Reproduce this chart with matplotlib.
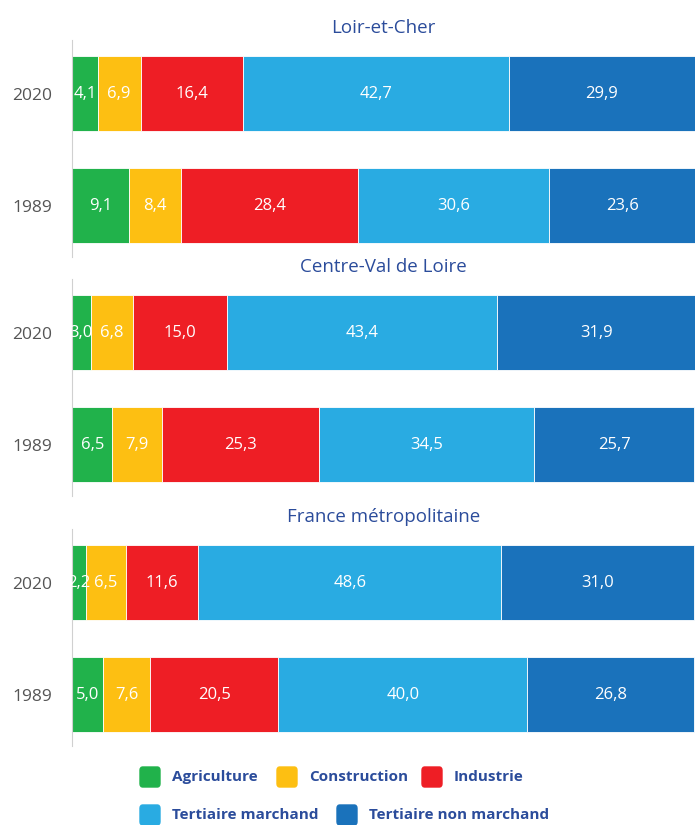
import matplotlib.pyplot as plt
from matplotlib.patches import FancyBboxPatch

plt.rcParams['font.family'] = ['Open Sans', 'DejaVu Sans']

regions = ["Loir-et-Cher", "Centre-Val de Loire", "France métropolitaine"]
years = ["2020", "1989"]
sectors = ["Agriculture", "Construction", "Industrie",
           "Tertiaire marchand", "Tertiaire non marchand"]
colors = ["#21B24B", "#FDBF12", "#EE1E25", "#29ABE2", "#1A72BB"]

# per region: [2020 values, 1989 values]
loir_et_cher = [[4.1, 6.9, 16.4, 42.7, 29.9], [9.1, 8.4, 28.4, 30.6, 23.6]]
centre_val = [[3.0, 6.8, 15.0, 43.4, 31.9], [6.5, 7.9, 25.3, 34.5, 25.7]]
france = [[2.2, 6.5, 11.6, 48.6, 31.0], [5.0, 7.6, 20.5, 40.0, 26.8]]
data = [loir_et_cher, centre_val, france]

W, H = 695, 825
fig = plt.figure(figsize=(W / 100, H / 100), dpi=100)

tops = [40, 279, 529]
ax_h = 217
title_col = "#2B4C9B"

for r, top in enumerate(tops):
    ax = fig.add_axes([72 / W, 1 - (top + ax_h) / H, 623 / W, ax_h / H])
    vals = data[r]
    for j in range(len(years)):
        left = 0
        for k in range(len(sectors)):
            v = vals[j][k]
            ax.barh(j, v, left=left, height=0.67, color=colors[k],
                    edgecolor="white", linewidth=0.6)
            ax.text(left + v / 2, j, f"{v:.1f}".replace(".", ","),
                    ha="center", va="center", color="white", fontsize=12)
            left += v
    ax.set_xlim(0, 100)
    ax.set_ylim(1.46, -0.48)
    ax.set_yticks(range(len(years)))
    ax.set_yticklabels(years, fontsize=12.5, color="#555555")
    ax.tick_params(axis="y", length=0, pad=14)
    ax.set_xticks([])
    for s in ["top", "right", "bottom"]:
        ax.spines[s].set_visible(False)
    ax.spines["left"].set_color("#D0D0D0")
    ax.set_title(regions[r], color=title_col, fontsize=13.5, pad=5)

# legend
rows = [(777, [(140, 0), (277, 1), (422, 2)]), (815, [(140, 3), (337, 4)])]
for y, items in rows:
    for x, k in items:
        fig.patches.append(FancyBboxPatch(
            (x / W, 1 - (y + 10) / H), 20 / W, 20 / H,
            boxstyle="round,pad=0,rounding_size=0.004",
            transform=fig.transFigure, color=colors[k]))
        fig.text((x + 32) / W, 1 - y / H, sectors[k], fontsize=11,
                 fontweight="bold", color=title_col, va="center", ha="left")

fig.savefig("out.png", dpi=100)
